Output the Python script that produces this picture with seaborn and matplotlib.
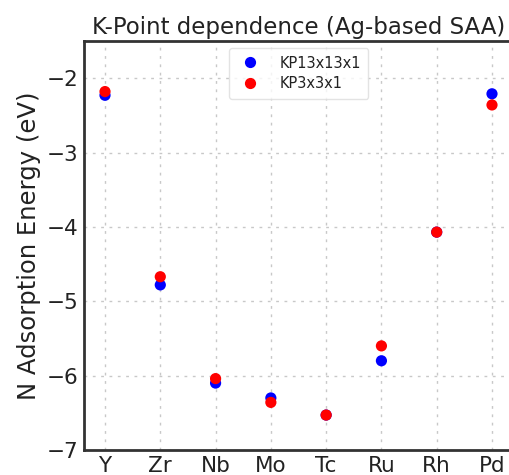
import matplotlib
matplotlib.use("Agg")
import matplotlib.pyplot as plt
import seaborn as sns
import pandas as pd

# Dopant metals in the Ag host
metals = ["Y", "Zr", "Nb", "Mo", "Tc", "Ru", "Rh", "Pd"]

# N adsorption energies (eV) for the two k-point meshes
e_kp13 = [-2.23, -4.78, -6.10, -6.30, -6.53, -5.80, -4.07, -2.21]
e_kp3 = [-2.18, -4.67, -6.04, -6.36, -6.53, -5.60, -4.07, -2.36]

series_names = ["KP13x13x1", "KP3x3x1"]
series_colors = ["blue", "red"]

yticks = [-7, -6, -5, -4, -3, -2]

df = pd.DataFrame({
    "metal": metals * 2,
    "energy": e_kp13 + e_kp3,
    "mesh": [series_names[0]] * len(metals) + [series_names[1]] * len(metals),
})
df["pos"] = df["metal"].map({m: i for i, m in enumerate(metals)})

sns.set_style("white")
plt.rcParams["font.family"] = ["DejaVu Sans"]

fig = plt.figure(figsize=(5.09, 4.75), dpi=100)
ax = fig.add_axes([84 / 509, 25 / 475, (513 - 84) / 509, (450 - 41) / 475])

sns.scatterplot(
    data=df, x="pos", y="energy", hue="mesh",
    hue_order=series_names, palette=dict(zip(series_names, series_colors)),
    s=65, linewidth=0, ax=ax, zorder=3,
)

ax.set_xlim(-0.38, len(metals) - 1 + 0.38)
ax.set_ylim(-7, -1.5)
ax.set_xticks(range(len(metals)))
ax.set_xticklabels(metals)
ax.set_yticks(yticks)
ax.set_xlabel("")
ax.set_ylabel("N Adsorption Energy (eV)", fontsize=17.5, color="#222222", labelpad=4)
ax.set_title("K-Point dependence (Ag-based SAA)", fontsize=16.5, color="#222222", pad=5)

ax.tick_params(direction="in", length=6, width=1.2, labelsize=15.5,
               colors="#333333", labelcolor="#222222", pad=4)
ax.grid(True, linestyle=(0, (2, 4)), color="#c8c8c8", linewidth=1)
ax.set_axisbelow(True)
for sp in ax.spines.values():
    sp.set_linewidth(2)
    sp.set_color("#333333")

leg = ax.legend(loc="upper center", fontsize=10.5, frameon=True,
                handletextpad=1.0, borderpad=0.5, labelspacing=0.4,
                bbox_to_anchor=(0.5, 1.0))
leg.get_frame().set_edgecolor("#dddddd")
for t in leg.get_texts():
    t.set_color("#222222")

fig.savefig("out.png", dpi=100)
